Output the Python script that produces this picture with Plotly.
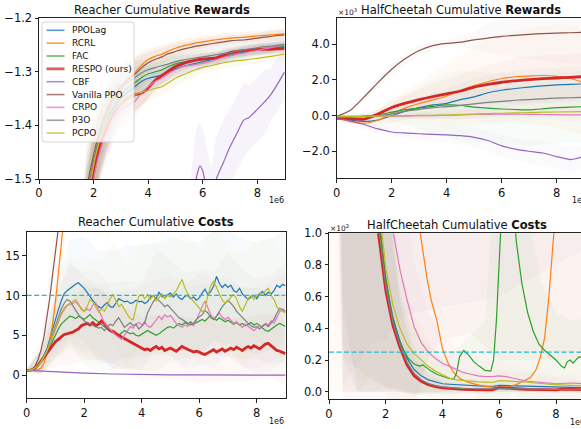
import numpy as np
import plotly.graph_objects as go

W, H = 581, 429

methods = ["PPOLag", "RCRL", "FAC", "RESPO (ours)", "CBF", "Vanilla PPO", "CRPO", "P3O", "PCPO"]
colors = ["#1f77b4", "#ff7f0e", "#2ca02c", "#d62728", "#9467bd", "#8c564b", "#e377c2", "#7f7f7f", "#bcbd22"]
limit_color = "#17becf"
reacher_cost_limit = 10
cheetah_cost_limit = 0.25  # x10^2

# ---------------- Reacher cumulative rewards ----------------
x_rr = np.linspace(0, 9, 37)
rr_ppolag = [-2.56,-2.46,-2.34,-2.20,-2.04,-1.88,-1.72,-1.57,-1.485,-1.43,-1.395,-1.368,-1.350,-1.338,-1.328,-1.318,-1.312,-1.309,-1.306,-1.300,-1.294,-1.290,-1.287,-1.284,-1.281,-1.278,-1.275,-1.272,-1.269,-1.266,-1.2635,-1.261,-1.259,-1.257,-1.256,-1.254,-1.253]
rr_rcrl = [-2.55,-2.45,-2.33,-2.19,-2.03,-1.87,-1.70,-1.55,-1.47,-1.415,-1.375,-1.347,-1.327,-1.313,-1.303,-1.288,-1.277,-1.271,-1.267,-1.261,-1.256,-1.252,-1.249,-1.246,-1.244,-1.242,-1.240,-1.2385,-1.237,-1.236,-1.2355,-1.234,-1.233,-1.232,-1.231,-1.230,-1.229]
rr_fac = [-2.55,-2.45,-2.33,-2.19,-2.03,-1.87,-1.71,-1.56,-1.48,-1.425,-1.39,-1.362,-1.343,-1.330,-1.321,-1.311,-1.304,-1.300,-1.2965,-1.290,-1.285,-1.282,-1.280,-1.278,-1.2766,-1.275,-1.273,-1.270,-1.267,-1.264,-1.261,-1.259,-1.257,-1.256,-1.255,-1.253,-1.2517]
rr_respo = [-2.58,-2.48,-2.36,-2.22,-2.06,-1.90,-1.74,-1.58,-1.49,-1.435,-1.40,-1.375,-1.360,-1.350,-1.343,-1.340,-1.330,-1.316,-1.307,-1.298,-1.290,-1.285,-1.281,-1.278,-1.276,-1.275,-1.274,-1.269,-1.264,-1.262,-1.260,-1.259,-1.258,-1.258,-1.258,-1.257,-1.256]
rr_vppo = [-2.50,-2.40,-2.28,-2.14,-1.98,-1.82,-1.66,-1.52,-1.455,-1.405,-1.37,-1.345,-1.327,-1.315,-1.305,-1.293,-1.283,-1.277,-1.272,-1.266,-1.262,-1.258,-1.255,-1.252,-1.250,-1.248,-1.246,-1.244,-1.242,-1.241,-1.2405,-1.239,-1.237,-1.235,-1.234,-1.232,-1.231]
rr_crpo = [-2.60,-2.50,-2.38,-2.24,-2.08,-1.92,-1.76,-1.60,-1.50,-1.445,-1.41,-1.385,-1.370,-1.362,-1.3556,-1.340,-1.328,-1.318,-1.312,-1.303,-1.296,-1.291,-1.288,-1.286,-1.284,-1.281,-1.277,-1.273,-1.270,-1.267,-1.265,-1.262,-1.260,-1.257,-1.255,-1.252,-1.250]
rr_p3o = [-2.52,-2.42,-2.30,-2.16,-2.00,-1.84,-1.68,-1.54,-1.465,-1.415,-1.38,-1.352,-1.333,-1.320,-1.311,-1.302,-1.296,-1.292,-1.2885,-1.285,-1.281,-1.278,-1.276,-1.274,-1.272,-1.270,-1.268,-1.266,-1.264,-1.262,-1.259,-1.257,-1.255,-1.253,-1.252,-1.250,-1.2486]
rr_pcpo = [-2.55,-2.45,-2.33,-2.19,-2.03,-1.87,-1.71,-1.56,-1.475,-1.425,-1.395,-1.372,-1.360,-1.351,-1.343,-1.338,-1.335,-1.331,-1.3277,-1.320,-1.312,-1.306,-1.301,-1.296,-1.2915,-1.289,-1.286,-1.283,-1.281,-1.279,-1.278,-1.276,-1.275,-1.273,-1.271,-1.269,-1.267]
rr_spread = [0.1,0.1,0.1,0.1,0.1,0.1,0.09,0.08,0.07,0.06,0.05,0.045,0.04,0.035,0.03,0.025,0.02,0.018,0.016,0.015,0.014,0.013,0.012,0.012,0.012,0.011,0.011,0.011,0.01,0.01,0.01,0.01,0.01,0.01,0.01,0.01,0.01]
x_rr_cbf = [0,1,2,3,4,5,5.5,5.7,5.8,5.9,6.0,6.1,6.3,6.5,6.75,7.0,7.25,7.5,7.7,8.0,8.25,8.5,8.75,9.0]
rr_cbf = [-3.0,-2.9,-2.7,-2.4,-2.1,-1.8,-1.62,-1.52,-1.49,-1.476,-1.485,-1.51,-1.56,-1.50,-1.47,-1.44,-1.415,-1.39,-1.385,-1.37,-1.357,-1.342,-1.322,-1.30]
rr_cbf_spread = [0.1,0.1,0.1,0.1,0.1,0.1,0.09,0.09,0.09,0.08,0.08,0.08,0.08,0.08,0.08,0.07,0.07,0.07,0.06,0.06,0.06,0.05,0.05,0.05]

# ---------------- HalfCheetah cumulative rewards (x10^3) ----------------
x_hr = np.linspace(0, 9, 19)
hr_ppolag = [-0.15,-0.25,-0.33,-0.25,0.0,0.25,0.45,0.6,0.69,0.9,1.05,1.28,1.42,1.52,1.6,1.67,1.72,1.75,1.78]
hr_rcrl = [-0.15,-0.34,-0.43,-0.26,0.1,0.43,0.68,0.88,1.1,1.4,1.68,1.9,2.08,2.18,2.22,2.25,2.2,2.08,1.85]
hr_fac = [-0.05,-0.05,-0.03,0.04,0.19,0.33,0.42,0.52,0.6,0.58,0.47,0.42,0.37,0.34,0.32,0.38,0.45,0.48,0.5]
hr_respo = [-0.15,-0.17,-0.2,0.08,0.45,0.7,0.9,1.07,1.22,1.38,1.6,1.75,1.87,1.95,2.02,2.07,2.11,2.15,2.19]
hr_cbf = [-0.15,-0.3,-0.5,-0.75,-0.92,-0.98,-1.02,-1.05,-1.08,-1.13,-1.22,-1.4,-1.7,-1.88,-2.0,-2.1,-2.3,-2.47,-2.3]
hr_vppo = [-0.05,0.3,1.05,1.85,2.6,3.2,3.65,3.93,4.05,4.12,4.25,4.35,4.45,4.5,4.56,4.6,4.63,4.65,4.67]
hr_crpo = [-0.1,-0.08,-0.06,-0.05,-0.04,-0.03,-0.01,0.0,0.02,0.04,0.06,0.07,0.08,0.08,0.07,0.06,0.05,0.04,0.04]
hr_p3o = [-0.1,-0.08,-0.05,0.0,0.1,0.25,0.35,0.45,0.5,0.57,0.66,0.74,0.8,0.86,0.9,0.94,0.98,1.0,1.03]
hr_pcpo = [-0.05,-0.05,-0.04,-0.03,-0.02,0.0,0.01,0.02,0.03,0.06,0.09,0.11,0.13,0.15,0.17,0.19,0.2,0.21,0.22]
hr_spread_ppolag = [0.05,0.1,0.2,0.3,0.4,0.5,0.6,0.7,0.8,0.9,1.0,1.0,1.0,1.0,1.0,1.0,1.0,1.0,1.0]
hr_spread_rcrl = [0.05,0.2,0.4,0.6,0.8,1.0,1.2,1.5,1.8,2.0,2.2,2.4,2.5,2.6,2.7,2.8,2.9,3.0,3.0]
hr_spread_fac = [0.05,0.1,0.2,0.3,0.5,0.8,1.2,1.5,1.8,2.0,2.0,2.0,2.0,2.0,2.0,2.0,2.0,2.0,2.0]
hr_spread_respo = [0.05,0.1,0.2,0.3,0.4,0.5,0.6,0.7,0.8,0.9,1.0,1.1,1.2,1.3,1.3,1.3,1.3,1.3,1.3]
hr_spread_cbf = [0.05,0.1,0.15,0.2,0.25,0.3,0.35,0.4,0.45,0.5,0.55,0.6,0.6,0.6,0.65,0.7,0.7,0.7,0.7]
hr_spread_vppo = [0.05,0.1,0.2,0.3,0.35,0.35,0.3,0.25,0.2,0.3,0.5,0.8,1.0,1.2,1.4,1.5,1.6,1.7,1.8]
hr_spread_crpo = [0.05,0.05,0.1,0.1,0.15,0.15,0.2,0.2,0.2,0.25,0.25,0.25,0.3,0.3,0.3,0.3,0.3,0.3,0.3]
hr_spread_p3o = [0.05,0.1,0.15,0.2,0.3,0.4,0.5,0.6,0.7,0.8,0.8,0.8,0.8,0.8,0.8,0.8,0.8,0.8,0.8]
hr_spread_pcpo = [0.05,0.05,0.1,0.1,0.15,0.15,0.2,0.2,0.2,0.25,0.25,0.25,0.3,0.3,0.3,0.3,0.3,0.3,0.3]

# ---------------- Reacher cumulative costs ----------------
x_rc = np.linspace(0, 9, 91)
rc_ppolag = [0.6,0.6,0.7,0.9,1.3,1.8,2.5,3.3,4.5,5.8,
             7.0,8.2,9.3,10.2,10.6,10.9,11.2,11.4,11.6,11.3,
             10.9,10.4,9.9,9.4,8.9,8.6,8.4,8.8,9.1,8.6,
             8.5,9.0,9.6,9.4,9.2,9.3,9.0,9.1,9.4,9.2,
             9.3,9.0,9.2,9.8,10.0,9.6,10.4,9.9,9.7,10.1,
             10.3,9.8,10.2,9.7,9.5,9.9,10.0,9.6,9.8,9.4,
             9.7,10.3,10.8,10.1,10.5,11.2,12.4,11.5,11.0,11.4,
             11.0,11.3,10.6,10.4,10.9,10.2,9.8,9.5,9.8,10.0,
             9.6,10.2,10.5,10.0,10.4,10.2,10.6,11.3,11.0,11.4,
             11.2]
rc_pcpo = [0.6,0.6,0.7,0.9,1.2,1.7,2.3,3.0,4.0,5.0,
           6.0,7.0,7.8,8.4,8.8,9.0,9.2,9.5,9.0,8.2,
           8.0,8.6,9.5,9.2,8.6,7.9,8.3,8.0,8.7,9.6,
           10.1,9.3,8.6,8.9,8.2,7.6,7.1,6.9,8.5,9.9,
           10.1,9.6,10.1,9.5,10.0,9.3,9.7,10.2,9.6,10.0,
           9.8,10.2,10.6,11.3,12.0,11.0,10.2,9.7,9.3,8.9,
           8.4,8.0,8.2,10.0,11.2,11.8,11.0,10.3,9.4,9.0,
           9.3,9.8,10.1,9.6,8.6,8.0,8.8,9.6,10.0,9.5,
           10.0,10.3,10.1,10.6,10.9,10.0,9.5,8.6,8.1,8.0,
           7.8]
rc_p3o = [0.6,0.6,0.7,0.9,1.2,1.7,2.3,3.0,4.0,5.1,
          6.2,7.3,8.3,9.0,9.5,9.3,8.7,8.1,7.6,7.2,
          6.8,6.6,6.4,6.2,6.1,5.9,6.0,5.6,6.0,6.4,
          6.2,6.8,7.2,6.6,6.0,6.3,6.6,6.2,6.4,5.8,
          6.1,6.5,7.8,8.6,9.2,9.7,9.4,9.0,8.6,8.8,
          8.4,8.0,7.6,7.2,7.0,6.8,6.5,6.3,6.5,7.0,
          7.3,7.6,8.1,7.8,7.2,7.0,7.4,8.0,8.6,9.0,
          9.4,9.0,8.6,8.0,7.6,7.2,6.9,6.5,6.2,6.0,
          6.1,5.8,6.2,6.4,6.1,6.6,7.0,7.8,8.4,8.2,
          8.0]
rc_crpo = [0.6,0.6,0.7,0.9,1.2,1.6,2.2,2.9,3.8,4.8,
           5.8,6.8,7.6,8.2,8.7,8.9,9.0,9.2,8.8,8.4,
           8.0,8.3,8.1,8.8,9.1,8.2,7.3,6.6,6.1,5.8,
           5.4,5.0,4.7,4.5,5.0,5.6,6.1,5.9,6.4,6.6,
           6.3,6.7,6.2,6.0,6.4,6.9,7.4,7.0,7.6,7.3,
           7.5,7.0,6.5,6.2,6.0,6.3,6.1,6.5,6.2,6.9,
           7.8,8.6,9.3,8.4,7.6,7.0,7.4,7.8,7.3,7.0,
           7.3,6.9,6.5,6.7,6.3,6.0,6.4,6.1,5.8,5.6,
           5.9,6.3,6.0,6.5,6.3,6.8,6.5,7.2,8.0,8.3,
           8.0]
rc_fac = [0.6,0.6,0.7,0.9,1.2,1.6,2.1,2.7,3.5,4.3,
          5.1,5.8,6.4,6.8,7.1,7.4,7.3,7.1,7.4,7.2,
          7.0,7.3,7.6,7.2,6.9,6.6,6.3,6.1,5.8,5.5,
          5.3,5.1,5.0,5.3,5.6,5.4,5.2,5.3,5.0,4.9,
          5.1,5.3,5.6,5.4,5.2,5.0,5.2,5.5,5.8,6.0,
          6.1,5.9,6.2,6.5,6.3,6.6,6.4,6.7,6.4,6.6,
          6.8,7.0,6.8,7.2,7.5,7.1,6.9,7.2,7.0,6.7,
          6.9,6.6,6.4,6.6,6.3,6.5,6.2,6.4,6.6,6.3,
          6.5,6.2,5.9,5.6,5.5,5.8,6.0,6.3,6.5,6.3,
          6.1]
rc_respo = [0.6,0.6,0.7,0.9,1.3,1.8,2.3,2.8,3.3,3.8,
            4.2,4.5,4.8,5.1,5.2,5.3,5.4,5.6,5.8,6.2,
            6.4,6.5,6.3,6.6,6.2,6.4,6.8,6.5,6.0,5.6,
            5.5,5.2,5.0,4.8,4.6,4.4,4.2,4.0,3.8,3.5,
            3.3,3.2,3.3,3.1,3.4,3.6,3.3,3.5,3.1,3.3,
            3.4,3.2,3.0,3.3,3.6,3.4,3.2,3.0,2.9,3.0,
            2.9,2.7,2.6,2.8,3.0,3.2,2.9,3.1,3.3,3.0,
            3.2,3.4,3.2,3.5,3.3,3.1,3.4,3.6,3.4,3.7,
            3.5,3.3,3.6,3.9,4.0,3.7,3.4,3.1,3.0,2.8,
            2.7]
x_rc_vppo = [0,0.1,0.2,0.3,0.4,0.5,0.6,0.7,0.8,0.9,1.0,1.1,1.2,1.5,2,3,4,5,6,7,8,9]
rc_vppo = [0.6,0.6,0.8,1.2,2.0,3.2,4.8,7.0,9.6,12.6,16.0,19.5,23,30,36,40,42,43,44,44,45,45]
x_rc_rcrl = [0,0.1,0.2,0.3,0.4,0.5,0.6,0.7,0.8,0.9,1.0,1.1,1.2,1.3,1.5,2,3,4,5,6,7,8,9]
rc_rcrl = [0.6,0.6,0.6,0.6,0.7,0.9,1.5,2.6,4.2,6.4,9.2,12.5,16.2,20,27,33,38,40,41,42,42,43,43]
x_rc_cbf = [0,0.5,1,1.5,2,3,4,5,6,7,8,9]
rc_cbf = [0.6,0.5,0.4,0.3,0.25,0.15,0.08,0.05,0.05,0.03,0.0,0.0]
x_rc_band = np.linspace(0, 9, 19)
rc_spread_ppolag = [0.1,1.5,4,6,6.5,7,7,7,7,7,7,7,7,7,7,7,7,7,7]
rc_spread_rcrl = [0.1,1.0,3,5,6,6,6,6,6,6,6,6,6,6,6,6,6,6,6]
rc_spread_fac = [0.1,1.5,3,4,4.5,4.5,4.5,4.5,4.5,4.5,4.5,4.5,4.5,4.5,4.5,4.5,4.5,4.5,4.5]
rc_spread_respo = [0.1,1.5,3,4,4.5,4.5,4,4,4,4,4,4,4,4,4,4,4,4,4]
rc_spread_cbf = [0.1,0.1,0.1,0.1,0.1,0.1,0.1,0.1,0.1,0.1,0.1,0.1,0.1,0.1,0.1,0.1,0.1,0.1,0.1]
rc_spread_vppo = [0.1,1.0,3,5,6,6,6,6,6,6,6,6,6,6,6,6,6,6,6]
rc_spread_crpo = [0.1,1.5,3.5,5,5,5,5,5,5,5,5,5,5,5,5,5,5,5,5]
rc_spread_p3o = [0.1,1.5,4,5,5.5,5.5,5.5,5.5,5.5,6,6,6,6,6,6,6,6,6,6]
rc_spread_pcpo = [0.1,1.5,4,6,6,6.5,6.5,6.5,6.5,7,7,7,7,7,7,7,7,7,7]

# ---------------- HalfCheetah cumulative costs (x10^2) ----------------
x_hc = np.linspace(0, 9, 37)
hc_respo = [6.0,5.0,4.2,3.4,2.7,2.05,1.45,0.99,0.64,0.42,0.28,0.17,0.10,0.065,0.045,0.032,0.024,0.02,0.017,0.015,0.013,0.012,0.011,0.011,0.026,0.022,0.019,0.017,0.015,0.013,0.012,0.011,0.011,0.016,0.014,0.013,0.012]
hc_p3o = [6.2,5.2,4.4,3.6,2.85,2.15,1.52,1.04,0.67,0.44,0.295,0.185,0.115,0.075,0.052,0.038,0.03,0.025,0.022,0.02,0.019,0.018,0.017,0.017,0.02,0.02,0.019,0.018,0.017,0.016,0.016,0.015,0.015,0.016,0.015,0.014,0.013]
hc_ppolag = [6.5,5.4,4.6,3.8,3.0,2.25,1.6,1.1,0.71,0.47,0.32,0.21,0.14,0.10,0.075,0.06,0.05,0.047,0.045,0.042,0.04,0.037,0.035,0.032,0.04,0.039,0.038,0.036,0.035,0.034,0.033,0.032,0.03,0.029,0.028,0.027,0.025]
hc_pcpo = [6.6,5.5,4.7,3.9,3.1,2.35,1.7,1.2,0.78,0.55,0.40,0.30,0.24,0.20,0.16,0.13,0.105,0.085,0.075,0.07,0.065,0.062,0.06,0.058,0.07,0.068,0.065,0.062,0.06,0.055,0.05,0.048,0.045,0.043,0.04,0.038,0.035]
hc_crpo = [7.5,6.5,5.6,4.8,4.0,3.2,2.4,1.65,1.3,1.02,0.77,0.58,0.41,0.31,0.25,0.21,0.18,0.16,0.14,0.12,0.11,0.10,0.095,0.095,0.10,0.095,0.085,0.075,0.065,0.062,0.06,0.055,0.05,0.052,0.055,0.052,0.05]
x_hc_fac = [0,0.5,1.0,1.5,1.8,2.0,2.2,2.4,2.6,2.8,3.0,3.2,3.3,3.4,3.6,3.8,4.0,4.2,4.4,4.5,4.6,4.75,4.9,5.1,5.3,5.5,5.7,5.8,5.9,6.0,6.1,6.3,6.5,6.6,6.8,7.0,7.2,7.4,7.6,7.8,8.0,8.2,8.3,8.4,8.5,8.6,8.8,9.0]
hc_fac = [6,4.5,3.0,1.7,1.02,0.72,0.5,0.36,0.27,0.21,0.175,0.16,0.17,0.155,0.13,0.11,0.095,0.085,0.08,0.12,0.22,0.26,0.235,0.19,0.16,0.135,0.13,0.2,0.45,0.8,1.2,1.5,1.2,0.95,0.68,0.5,0.38,0.3,0.26,0.23,0.2,0.16,0.15,0.19,0.2,0.18,0.22,0.21]
x_hc_rcrl = [0,1,2,3,3.2,3.45,3.6,3.8,4.0,4.2,4.4,4.6,4.9,5.2,5.5,6.0,6.3,6.6,6.9,7.1,7.3,7.45,7.6,7.75,7.9,8.1,9]
hc_rcrl = [8,6,4,1.3,1.02,0.72,0.58,0.45,0.27,0.18,0.12,0.085,0.06,0.045,0.034,0.024,0.03,0.045,0.07,0.09,0.14,0.22,0.34,0.6,0.95,1.4,3]
x_hc_far = [0,3,6,9]
hc_vppo = [5.0,3.5,3.0,3.0]
hc_cbf = [5.0,4.0,3.5,3.2]
x_hc_band = np.linspace(0, 9, 19)
hc_spread_ppolag = [2,4.4,3.0,1.6,0.7,0.32,0.15,0.08,0.05,0.04,0.04,0.035,0.04,0.035,0.035,0.03,0.03,0.03,0.03]
hc_spread_rcrl = [8,7,6,5,4,3,2,1.5,1.2,1.1,1.1,1.1,1.1,1.2,1.3,1.5,2,2.5,3]
hc_spread_fac = [2,4,3,1.6,0.7,0.3,0.2,0.15,0.12,0.15,0.15,0.3,1.0,1.2,0.6,0.4,0.3,0.25,0.25]
hc_spread_respo = [2,4.2,2.7,1.45,0.64,0.28,0.12,0.06,0.04,0.03,0.03,0.025,0.025,0.02,0.02,0.02,0.02,0.02,0.02]
hc_spread_cbf = [2,4.8,4.5,4.2,4.0,3.7,3.5,3.4,3.3,3.2,3.1,3.0,2.9,2.8,2.7,2.6,2.5,2.4,2.3]
hc_spread_vppo = [2,4.9,4.7,4.5,4.3,4,3.6,3.2,3.0,2.9,2.8,2.8,2.8,2.8,2.8,2.8,2.8,2.8,2.8]
hc_spread_crpo = [2,5,4,2.4,1.3,0.77,0.41,0.25,0.18,0.14,0.11,0.095,0.1,0.085,0.065,0.06,0.05,0.055,0.05]
hc_spread_p3o = [2,4.2,2.7,1.45,0.64,0.28,0.12,0.06,0.04,0.03,0.03,0.025,0.025,0.02,0.02,0.02,0.02,0.02,0.02]
hc_spread_pcpo = [2,4.4,3.0,1.7,0.75,0.4,0.25,0.16,0.1,0.07,0.06,0.06,0.07,0.06,0.06,0.05,0.045,0.04,0.035]

# ---------------- assemble per panel ----------------
panels = [
    dict(ax=("x", "y"), alpha=0.08, smooth=True,
         series=[(x_rr, rr_ppolag, rr_spread, x_rr), (x_rr, rr_rcrl, rr_spread, x_rr), (x_rr, rr_fac, rr_spread, x_rr),
                 (x_rr, rr_respo, rr_spread, x_rr), (x_rr_cbf, rr_cbf, rr_cbf_spread, x_rr_cbf), (x_rr, rr_vppo, rr_spread, x_rr),
                 (x_rr, rr_crpo, rr_spread, x_rr), (x_rr, rr_p3o, rr_spread, x_rr), (x_rr, rr_pcpo, rr_spread, x_rr)]),
    dict(ax=("x2", "y2"), alpha=0.035, smooth=True,
         series=[(x_hr, hr_ppolag, hr_spread_ppolag, x_hr), (x_hr, hr_rcrl, hr_spread_rcrl, x_hr), (x_hr, hr_fac, hr_spread_fac, x_hr),
                 (x_hr, hr_respo, hr_spread_respo, x_hr), (x_hr, hr_cbf, hr_spread_cbf, x_hr), (x_hr, hr_vppo, hr_spread_vppo, x_hr),
                 (x_hr, hr_crpo, hr_spread_crpo, x_hr), (x_hr, hr_p3o, hr_spread_p3o, x_hr), (x_hr, hr_pcpo, hr_spread_pcpo, x_hr)]),
    dict(ax=("x3", "y3"), alpha=0.035, smooth=False,
         series=[(x_rc, rc_ppolag, rc_spread_ppolag, x_rc_band), (x_rc_rcrl, rc_rcrl, rc_spread_rcrl, x_rc_band), (x_rc, rc_fac, rc_spread_fac, x_rc_band),
                 (x_rc, rc_respo, rc_spread_respo, x_rc_band), (x_rc_cbf, rc_cbf, rc_spread_cbf, x_rc_band), (x_rc_vppo, rc_vppo, rc_spread_vppo, x_rc_band),
                 (x_rc, rc_crpo, rc_spread_crpo, x_rc_band), (x_rc, rc_p3o, rc_spread_p3o, x_rc_band), (x_rc, rc_pcpo, rc_spread_pcpo, x_rc_band)]),
    dict(ax=("x4", "y4"), alpha=0.04, smooth=False,
         series=[(x_hc, hc_ppolag, hc_spread_ppolag, x_hc_band), (x_hc_rcrl, hc_rcrl, hc_spread_rcrl, x_hc_band), (x_hc_fac, hc_fac, hc_spread_fac, x_hc_band),
                 (x_hc, hc_respo, hc_spread_respo, x_hc_band), (x_hc_far, hc_cbf, hc_spread_cbf, x_hc_band), (x_hc_far, hc_vppo, hc_spread_vppo, x_hc_band),
                 (x_hc, hc_crpo, hc_spread_crpo, x_hc_band), (x_hc, hc_p3o, hc_spread_p3o, x_hc_band), (x_hc, hc_pcpo, hc_spread_pcpo, x_hc_band)]),
]


def rgba(hexc, a):
    h = hexc.lstrip("#")
    return "rgba(%d,%d,%d,%.3f)" % (int(h[0:2], 16), int(h[2:4], 16), int(h[4:6], 16), a)


fig = go.Figure()
for p in panels:
    xa, ya = p["ax"]
    for (sx, sy, sp, bx), c in zip(p["series"], colors):
        bx = np.asarray(bx, dtype=float)
        centre = np.interp(bx, np.asarray(sx, float), np.asarray(sy, float))
        sp = np.asarray(sp, float)
        hi, lo = centre + sp, centre - sp
        fig.add_trace(go.Scatter(x=list(bx) + list(bx[::-1]), y=list(hi) + list(lo[::-1]),
                                 fill="toself", fillcolor=rgba(c, p["alpha"]), mode="lines",
                                 line=dict(width=0, color="rgba(0,0,0,0)"), hoverinfo="skip",
                                 showlegend=False, xaxis=xa, yaxis=ya))
    for (sx, sy, sp, bx), c, name in zip(p["series"], colors, methods):
        thick = name.startswith("RESPO")
        line = dict(color=c, width=2.8 if thick else 1.2)
        if p["smooth"]:
            line.update(shape="spline", smoothing=0.6)
        fig.add_trace(go.Scatter(x=list(sx), y=list(sy), mode="lines", line=line, name=name,
                                 showlegend=False, xaxis=xa, yaxis=ya))

fig.add_trace(go.Scatter(x=[0, 9], y=[reacher_cost_limit] * 2, mode="lines", showlegend=False,
                         line=dict(color=limit_color, width=1.2, dash="5px,2.5px"), xaxis="x3", yaxis="y3"))
fig.add_trace(go.Scatter(x=[0, 9], y=[cheetah_cost_limit] * 2, mode="lines", showlegend=False,
                         line=dict(color=limit_color, width=1.2, dash="5px,2.5px"), xaxis="x4", yaxis="y4"))


def fx(px):
    return px / W


def fy(py):
    return 1 - py / H


tickfont = dict(family="DejaVu Sans", size=11.5, color="#111")
common = dict(showgrid=False, zeroline=False, showline=True, linecolor="#222", linewidth=1, automargin=False,
              ticks="outside", ticklen=3.5, tickwidth=0.8, tickcolor="#222", tickfont=tickfont)

fig.update_layout(
    width=W, height=H, margin=dict(l=0, r=0, t=0, b=0, autoexpand=False),
    paper_bgcolor="white", plot_bgcolor="white", showlegend=False,
    font=dict(family="DejaVu Sans", color="#111"),
    xaxis=dict(domain=[fx(39), fx(284.6)], range=[0, 9], tickvals=[0, 2, 4, 6, 8], anchor="y", mirror=True, **common),
    yaxis=dict(domain=[fy(179), fy(18.3)], range=[-1.5, -1.2], tickvals=[-1.5, -1.4, -1.3, -1.2], tickformat=".1f",
               anchor="x", mirror=True, **common),
    xaxis2=dict(domain=[fx(336.7), 1.0], range=[0, (W - 336.7) / 27.5], tickvals=[0, 2, 4, 6, 8], anchor="y2", mirror=True, **common),
    yaxis2=dict(domain=[fy(178.3), fy(18.3)], range=[-3.52, 5.46], tickvals=[-2, 0, 2, 4], tickformat=".1f",
                anchor="x2", mirror=False, **common),
    xaxis3=dict(domain=[fx(26.7), fx(285.5)], range=[0, 9], tickvals=[0, 2, 4, 6, 8], anchor="y3", mirror=True, **common),
    yaxis3=dict(domain=[fy(398.3), fy(231.7)], range=[-2.9, 18], tickvals=[0, 5, 10, 15], anchor="x3", mirror=True, **common),
    xaxis4=dict(domain=[fx(329), 1.0], range=[0, (W - 329) / 28.375], tickvals=[0, 2, 4, 6, 8], anchor="y4", mirror=True, **common),
    yaxis4=dict(domain=[fy(399.3), fy(233.3)], range=[-0.048, 1.0], tickvals=[0, 0.2, 0.4, 0.6, 0.8, 1.0], tickformat=".1f",
                anchor="x4", mirror=False, **common),
)

ann = []
titles = [("Reacher Cumulative <b>Rewards</b>", 161.8, 10),
          ("HalfCheetah Cumulative <b>Rewards</b>", 461, 10),
          ("Reacher Cumulative <b>Costs</b>", 156.3, 222.3),
          ("HalfCheetah Cumulative <b>Costs</b>", 456.5, 225)]
for t, px, py in titles:
    ann.append(dict(text=t, x=fx(px), y=fy(py), xref="paper", yref="paper", xanchor="center", yanchor="middle",
                    showarrow=False, font=dict(family="DejaVu Sans", size=11.5, color="#111")))
for px, py, anchor in [(286, 200.7, "right"), (286, 421.7, "right"), (570, 200.7, "left"), (568, 422, "left")]:
    ann.append(dict(text="1e6", x=fx(px), y=fy(py), xref="paper", yref="paper", xanchor=anchor, yanchor="middle",
                    showarrow=False, font=dict(family="DejaVu Sans", size=8, color="#111")))
for px, py, t in [(336, 12.5, "×10<sup>3</sup>"), (328, 227.5, "×10<sup>2</sup>")]:
    ann.append(dict(text=t, x=fx(px), y=fy(py), xref="paper", yref="paper", xanchor="left", yanchor="middle",
                    showarrow=False, font=dict(family="DejaVu Sans", size=7.5, color="#111")))

shapes = []
x0, x1, y0, y1, r = 42, 134, 22, 142, 3
path = ("M{a},{b} L{c},{b} Q{d},{b} {d},{e} L{d},{f} Q{d},{g} {c},{g} L{a},{g} Q{h},{g} {h},{f} L{h},{e} Q{h},{b} {a},{b} Z"
        .format(a=fx(x0 + r), b=fy(y0), c=fx(x1 - r), d=fx(x1), e=fy(y0 + r), f=fy(y1 - r), g=fy(y1), h=fx(x0)))
shapes.append(dict(type="path", path=path, xref="paper", yref="paper", layer="above",
                   fillcolor="rgba(255,255,255,0.8)", line=dict(color="#cccccc", width=0.8)))
for i, (name, c) in enumerate(zip(methods, colors)):
    yc = 30.3 + i * 12.85
    thick = name.startswith("RESPO")
    shapes.append(dict(type="line", x0=fx(46.5), x1=fx(64.5), y0=fy(yc), y1=fy(yc), xref="paper", yref="paper",
                       layer="above", line=dict(color=rgba(c, 0.75), width=2.8 if thick else 1.6)))
    ann.append(dict(text=name, x=fx(70), y=fy(yc), xref="paper", yref="paper", xanchor="left", yanchor="middle",
                    showarrow=False, font=dict(family="DejaVu Sans", size=9, color="#111")))

fig.update_layout(annotations=ann, shapes=shapes)
fig.write_html("out.html", config={"displayModeBar": False},
               post_script="document.body.style.margin='0px';document.body.style.overflow='hidden';")
